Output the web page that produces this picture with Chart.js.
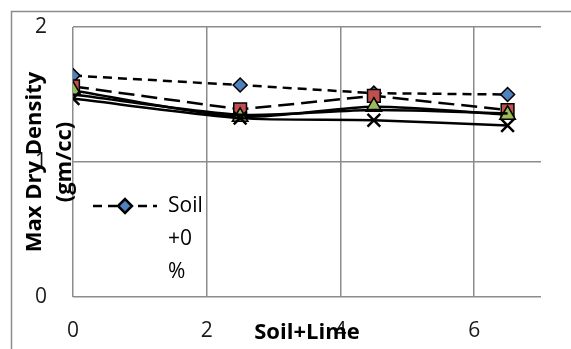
<!DOCTYPE html>
<html>
<head>
<meta charset="utf-8">
<script src="https://cdn.jsdelivr.net/npm/chart.js@4.4.1/dist/chart.umd.min.js"></script>
<style>
  html, body { margin: 0; padding: 0; background: #fff; }
  #wrap { position: relative; width: 571px; height: 349px; }
</style>
</head>
<body>
<div id="wrap"><canvas id="mddChart" width="571" height="349"></canvas></div>
<script>
// lime content (%) and max dry density (gm/cc) for each mix
const limePercent = [0, 2.5, 4.5, 6.5];
const soil0  = [1.64, 1.57, 1.51, 1.50];
const soil5  = [1.56, 1.39, 1.49, 1.385];
const soil10 = [1.53, 1.335, 1.41, 1.35];
const soil15 = [1.50, 1.35, 1.385, 1.36];
const soil20 = [1.47, 1.325, 1.31, 1.27];
const yTicks = [0, 1, 2];
const xTicks = [0, 2, 4, 6];
const legendLines = ['Soil', '+0', '%'];

const FONT = '"Open Sans", sans-serif';

function toPoints(ys) {
    return limePercent.map((x, i) => ({ x: x, y: ys[i] }));
}

const datasets = [
    {
        label: 'Soil+0%', data: toPoints(soil0), order: 5,
        borderColor: '#000', borderWidth: 2.5, borderDash: [9, 6],
        pointStyle: 'rectRot', pointRadius: 7, pointBorderWidth: 1.5,
        pointBackgroundColor: '#4F81BD', pointBorderColor: '#000'
    },
    {
        label: 'Soil+5%', data: toPoints(soil5), order: 4,
        borderColor: '#000', borderWidth: 2.5, borderDash: [16, 7],
        pointStyle: 'rect', pointRadius: 9, pointBorderWidth: 1.5,
        pointBackgroundColor: '#C0504D', pointBorderColor: '#000'
    },
    {
        label: 'Soil+10%', data: toPoints(soil10), order: 3,
        borderColor: '#000', borderWidth: 2.5, tension: 0.25,
        pointStyle: 'triangle', pointRadius: 9, pointBorderWidth: 1.5,
        pointBackgroundColor: '#9BBB59', pointBorderColor: '#000'
    },
    {
        label: 'Soil+15%', data: toPoints(soil15), order: 2,
        borderColor: '#000', borderWidth: 2.5, tension: 0.25,
        pointRadius: 0
    },
    {
        label: 'Soil+20%', data: toPoints(soil20), order: 1,
        borderColor: '#000', borderWidth: 2.5, tension: 0.25,
        pointStyle: 'crossRot', pointRadius: 9, pointBorderWidth: 2.5,
        pointBackgroundColor: '#000', pointBorderColor: '#000'
    }
];

// outer frame, axis titles and the single in-plot legend entry
const decorations = {
    id: 'decorations',
    beforeDraw(chart) {
        const ctx = chart.ctx;
        ctx.save();
        ctx.fillStyle = '#fff';
        ctx.fillRect(0, 0, chart.width, chart.height);
        ctx.strokeStyle = '#8c8c8c';
        ctx.lineWidth = 1.5;
        ctx.strokeRect(11.5, 11.5, chart.width + 20, chart.height + 20);
        ctx.restore();
    },
    afterDraw(chart) {
        const ctx = chart.ctx;
        const a = chart.chartArea;
        ctx.save();
        ctx.fillStyle = '#000';
        ctx.font = 'bold 22px ' + FONT;
        ctx.textAlign = 'center';
        ctx.textBaseline = 'middle';
        ctx.fillText('Soil+Lime', (a.left + a.right) / 2, a.bottom + 36);

        ctx.save();
        ctx.translate(a.left - 38, (a.top + a.bottom) / 2);
        ctx.rotate(-Math.PI / 2);
        ctx.fillText('Max Dry Density', 0, 0);
        ctx.fillText('(gm/cc)', 0, 30);
        ctx.restore();

        const ds = chart.data.datasets[0];
        const ly = a.top + 179;
        const lx0 = a.left + 20;
        const lx1 = a.left + 84;
        ctx.strokeStyle = ds.borderColor;
        ctx.lineWidth = ds.borderWidth;
        ctx.setLineDash(ds.borderDash);
        ctx.beginPath();
        ctx.moveTo(lx0, ly);
        ctx.lineTo(lx1, ly);
        ctx.stroke();
        ctx.setLineDash([]);
        ctx.fillStyle = ds.pointBackgroundColor;
        ctx.strokeStyle = ds.pointBorderColor;
        Chart.helpers.drawPoint(ctx, {
            pointStyle: ds.pointStyle, radius: ds.pointRadius,
            borderWidth: ds.pointBorderWidth, rotation: 0
        }, (lx0 + lx1) / 2, ly);

        ctx.fillStyle = '#000';
        ctx.font = '21px ' + FONT;
        ctx.textAlign = 'left';
        legendLines.forEach((t, i) => ctx.fillText(t, a.left + 95, ly + i * 33));
        ctx.restore();
    }
};

new Chart(document.getElementById('mddChart').getContext('2d'), {
    type: 'line',
    data: { datasets: datasets },
    options: {
        responsive: false,
        animation: false,
        layout: { padding: { left: 35, top: 27, right: 30, bottom: 0 } },
        plugins: {
            legend: { display: false },
            tooltip: { enabled: false }
        },
        scales: {
            x: {
                type: 'linear',
                min: 0,
                max: 7,
                afterBuildTicks: scale => {
                    scale.ticks = xTicks.map(v => ({ value: v }));
                },
                afterFit: scale => { scale.height = 52; },
                ticks: {
                    color: '#1a1a1a',
                    padding: 21,
                    font: { family: FONT, size: 21 }
                },
                grid: { color: '#8c8c8c', lineWidth: 1.5, drawTicks: false },
                border: { display: false }
            },
            y: {
                type: 'linear',
                min: 0,
                max: 2,
                afterBuildTicks: scale => {
                    scale.ticks = yTicks.map(v => ({ value: v }));
                },
                afterFit: scale => { scale.width = 38; },
                ticks: {
                    color: '#1a1a1a',
                    padding: 0,
                    crossAlign: 'far',
                    font: { family: FONT, size: 21 }
                },
                grid: { color: '#8c8c8c', lineWidth: 1.5, drawTicks: false },
                border: { display: false }
            }
        }
    },
    plugins: [decorations]
});
</script>
</body>
</html>
